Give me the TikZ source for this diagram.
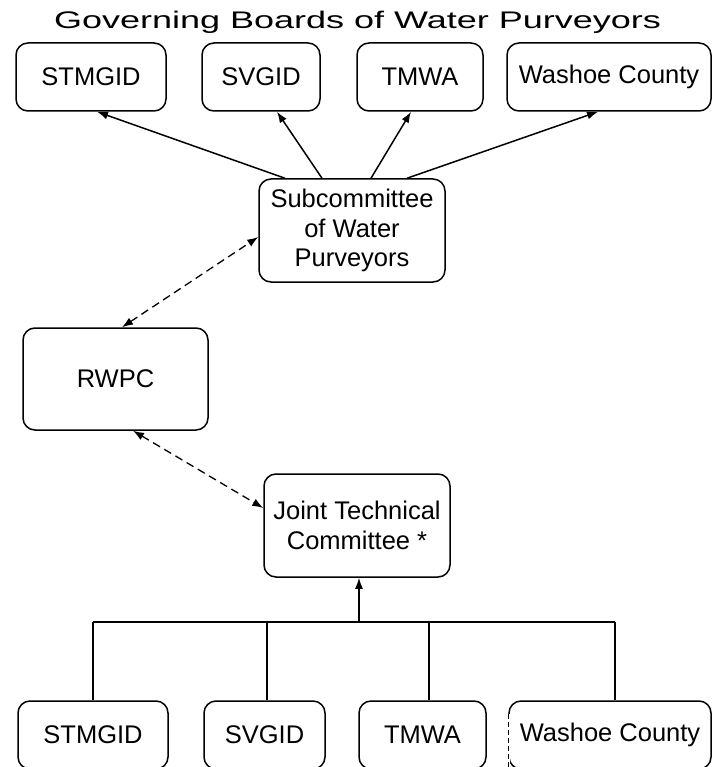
\documentclass[tikz,border=0pt]{standalone}
\usepackage{fontspec}
\setmainfont{Liberation Sans}
\usetikzlibrary{arrows.meta,calc}
\tikzset{
    boite/.style={draw, rounded corners=12pt, line width=1.5pt, align=center, inner sep=0pt,
      minimum height=68pt, font=\fontsize{25.5}{29.5}\selectfont},
    fleche/.style={-{Latex[length=11pt,width=8pt]}, line width=1.5pt},
    pointille/.style={{Latex[length=11pt,width=8pt]}-{Latex[length=11pt,width=8pt]}, line width=1.3pt, dash pattern=on 8pt off 5pt},
    trait/.style={line width=1.4pt},
  }
\begin{document}
\begin{tikzpicture}[x=1pt,y=-1pt]
				  \useasboundingbox (0,0) rectangle (713,767);
				  %TITRE
				  \node (titre) at (357.5,22) {\scalebox{1.5}[1]{\fontsize{24}{28}\selectfont Governing Boards of Water Purveyors}};

				  %conseils en haut
				  \node[boite, minimum width=150pt] (hstm) at (91,77) {STMGID};
				  \node[boite, minimum width=118pt] (hsvg) at (261,77) {SVGID};
				  \node[boite, minimum width=126pt] (htmw) at (420,77) {TMWA};
				  \node[boite, minimum width=204pt] (hwas) at (609,77) {Washoe County};

				  %sous-comite
				  \node[boite, minimum width=186pt, minimum height=103pt] (sous) at (352,230.5) {Subcommittee\\of Water\\Purveyors};
				  \draw[fleche] ([xshift=-67pt]sous.north) -- ([xshift=6pt]hstm.south);
				  \draw[fleche] ([xshift=-30pt]sous.north) -- ([xshift=16pt]hsvg.south);
				  \draw[fleche] ([xshift=19pt]sous.north) -- ([xshift=-9pt]htmw.south);
				  \draw[fleche] ([xshift=55pt]sous.north) -- ([xshift=-11pt]hwas.south);

				  %RWPC
				  \node[boite, minimum width=185pt, minimum height=102pt] (rwpc) at (115.5,379) {RWPC};
				  \draw[pointille] ([xshift=6.5pt]rwpc.north) -- ([yshift=-6.5pt]sous.west);

				  %comite technique
				  \node[boite, minimum width=186pt, minimum height=103pt] (jtc) at (357,525.5) {Joint Technical\\Committee *};
				  \draw[pointille] ([xshift=17.5pt]rwpc.south) -- ([yshift=17.5pt]jtc.west);

				  %conseils en bas
				  \node[boite, minimum width=150pt] (bstm) at (93,735) {STMGID};
				  \node[boite, minimum width=121pt] (bsvg) at (264.5,735) {SVGID};
				  \node[boite, minimum width=127pt] (btmw) at (422.5,735) {TMWA};
				  \node[boite, minimum width=202pt] (bwas) at (610,735) {Washoe County};
				  \draw[white, line width=3.5pt] ([yshift=-14pt]bwas.north west) -- (bwas.south west);
				  \draw[line width=1.2pt, dash pattern=on 5pt off 3pt] ([yshift=-14pt]bwas.north west) -- (bwas.south west);

				  %barre
				  \coordinate (bus) at (359,622);
				  \coordinate (b1) at (93,622);
				  \coordinate (b2) at (267,622);
				  \coordinate (b3) at (429,622);
				  \coordinate (b4) at (615,622);
				  \draw[trait] (b1) -- (b4);
				  \draw[trait] (b1) -- (b1 |- bstm.north);
				  \draw[trait] (b2) -- (b2 |- bsvg.north);
				  \draw[trait] (b3) -- (b3 |- btmw.north);
				  \draw[trait] (b4) -- (b4 |- bwas.north);
				  \draw[fleche] (bus) -- (bus |- jtc.south);
				  \end{tikzpicture}
\end{document}
